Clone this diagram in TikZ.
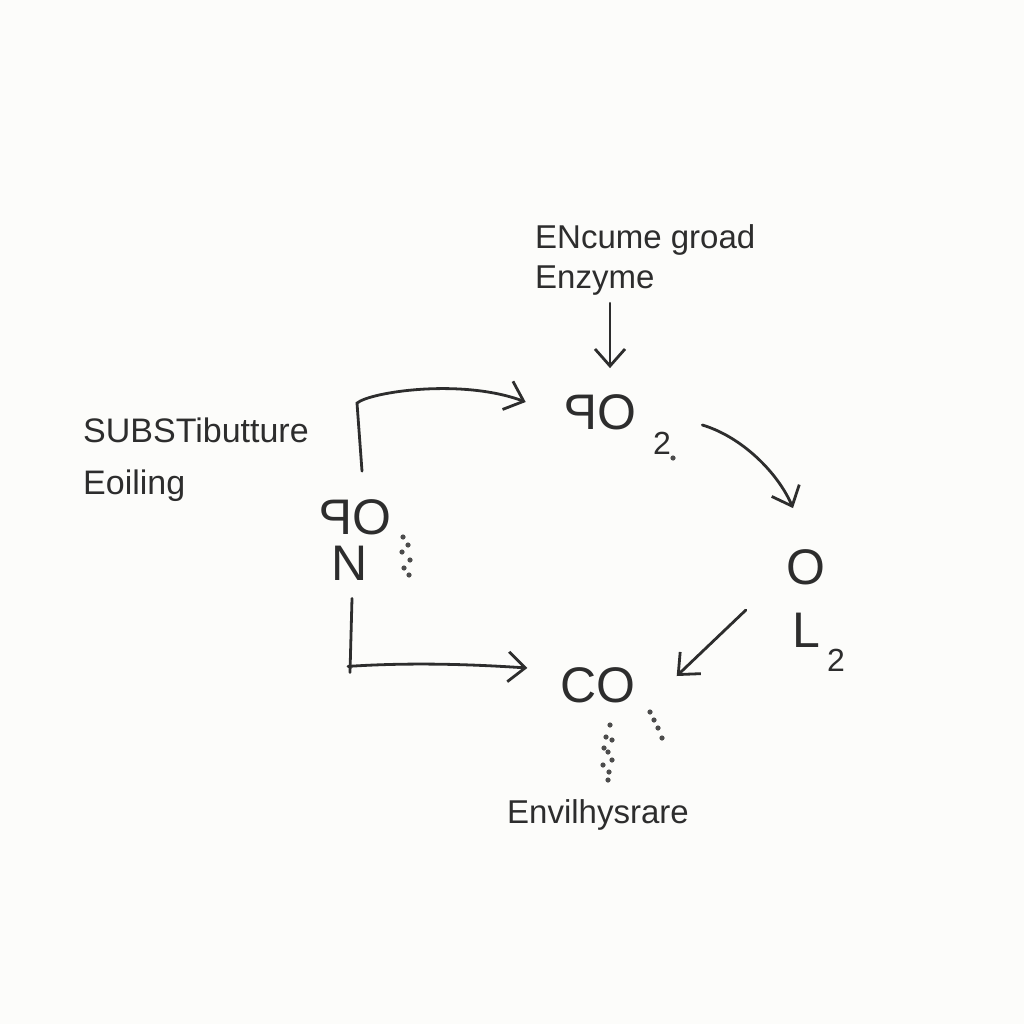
\documentclass[tikz,border=0pt]{standalone}
\usepackage{fontspec}
\usepackage{graphicx}
\setmainfont{Liberation Sans}
\usetikzlibrary{arrows.meta}

\definecolor{pen}{RGB}{45,45,45}
\definecolor{paper}{RGB}{252,252,250}

\tikzset{
  arr/.style={draw=pen, line width=2.8pt, line cap=round, -{Straight Barb[length=17pt,width=30pt,line width=2.8pt]}},
  pline/.style={draw=pen, line width=2.8pt, line cap=round},
  note/.style={inner sep=0pt, text=pen, font=\fontsize{33}{40}\selectfont, align=left},
  chem/.style={inner sep=1pt, text=pen, font=\fontsize{50}{52}\selectfont},
  sub/.style={inner sep=0pt, text=pen, font=\fontsize{32}{34}\selectfont},
}

\begin{document}
\begin{tikzpicture}[x=1pt,y=1pt,yscale=-1,xscale=1]
    % page
    \fill[paper] (0,0) rectangle (1024,1024);
    \useasboundingbox (0,0) rectangle (1024,1024);

    % Text Nodes
    \node[note, anchor=north west] (enz) at (535,224) {ENcume groad\\Enzyme};
    \node[note, anchor=north west, font=\fontsize{34}{52}\selectfont] (subst) at (83,418) {SUBSTibutture\\Eoiling};
    \node[note] (envi) at (598,815) {Envilhysrare};

    % Molecules
    \node[chem] (fotwo) at (600,412) {\reflectbox{P}O};
    \node[sub] (fotwos) at (662,443) {2};
    \node[chem] (fon) at (355,517) {\reflectbox{P}O};
    \node[chem] (nn) at (350,563) {N};
    \node[chem] (oo) at (806,567) {O};
    \node[chem] (ll) at (806,630) {L};
    \node[sub] (lls) at (836,660) {2};
    \node[chem] (co) at (598,685) {CO};

    % Arrows
    \draw[arr] ([xshift=10pt,yshift=8pt]enz.south -| fotwo.north) -- ([xshift=10pt,yshift=-25pt]fotwo.north);
    \draw[arr] ([xshift=7pt,yshift=-27pt]fon.north) -- ++(-5,-68) .. controls +(13,-11) and +(-65,-24) .. ([xshift=-37pt,yshift=-10pt]fotwo.west);
    \draw[pline] ([xshift=2pt,yshift=17pt]nn.south) -- ++(-2,74);
    \draw[arr] ([xshift=-2pt,yshift=85pt]nn.south) .. controls +(60,-4) and +(-60,-4) .. ([xshift=-32pt,yshift=-17pt]co.west);
    \draw[arr] ([xshift=65pt,yshift=13pt]fotwo.east) .. controls +(40,12) and +(-15,-35) .. ([xshift=-13pt,yshift=-40pt]oo.north);
    \draw[arr] ([xshift=-45pt,yshift=-20pt]ll.west) -- ([xshift=40pt,yshift=-9pt]co.east);

    % stipple dots
    \foreach \p in {(403,537),(408,545),(402,552),(410,560),(404,568),(409,575),(673,458),
                    (610,725),(606,737),(612,740),(604,748),(608,752),(612,760),(603,765),(609,772),(608,780),
                    (650,712),(654,720),(658,728),(662,738)}
      \fill[pen!85] \p circle (2.6);

\end{tikzpicture}
\end{document}
